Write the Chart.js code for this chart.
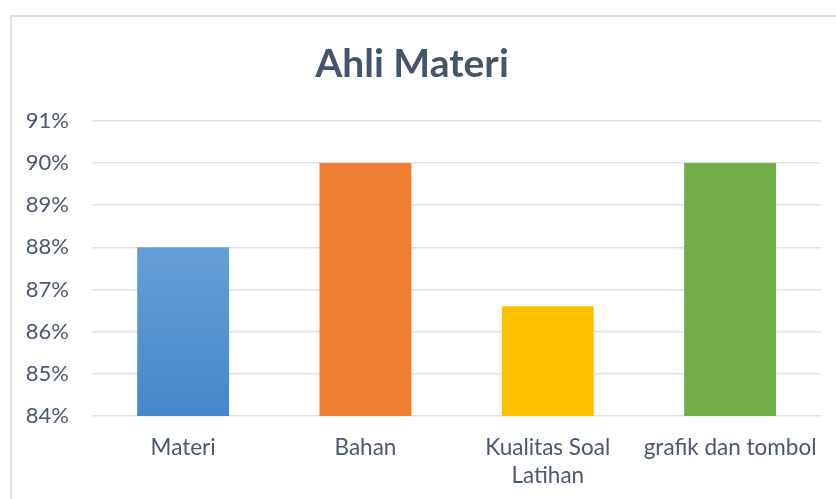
<!DOCTYPE html>
<html>
<head>
<meta charset="utf-8">
<script src="https://cdn.jsdelivr.net/npm/chart.js@4.4.1/dist/chart.umd.min.js"></script>
<style>
  html, body { margin: 0; padding: 0; background: #fff; }
  body { width: 836px; height: 499px; overflow: hidden; position: relative; }
  #frame {
    position: absolute; left: 10px; top: 15px; width: 900px; height: 600px;
    border-left: 2px solid #DCE1E8; border-top: 2px solid #DCE1E8;
  }
  #wrap { position: absolute; left: 0; top: 0; width: 836px; height: 499px; }
</style>
</head>
<body>
<div id="frame"></div>
<div id="wrap"><canvas id="chart" width="836" height="499"></canvas></div>
<script>
// data
const categories = ['Materi', 'Bahan', ['Kualitas Soal', 'Latihan'], 'grafik dan tombol'];
const scores = [88, 90, 86.6, 90];
const yTicks = { min: 84, max: 91, step: 1 };
const barColors = ['#5B9BD5', '#ED7D31', '#FFC000', '#70AD47'];

const textColor = '#4A586E';

Chart.defaults.font.family = 'Lato, "Open Sans", sans-serif';

// first bar has a light-to-dark blue gradient like the original
function barFill(ctx) {
  const chart = ctx.chart;
  const area = chart.chartArea;
  if (ctx.dataIndex !== 0 || !area) return barColors[ctx.dataIndex];
  const g = chart.ctx.createLinearGradient(0, area.top, 0, area.bottom);
  g.addColorStop(0, '#7CAFE0');
  g.addColorStop(1, '#4588CA');
  return g;
}

new Chart(document.getElementById('chart'), {
  type: 'bar',
  data: {
    labels: categories,
    datasets: [{
      label: 'Ahli Materi',
      data: scores,
      backgroundColor: barFill,
      borderWidth: 0,
      categoryPercentage: 1,
      barPercentage: 0.504,
    }],
  },
  options: {
    responsive: false,
    animation: false,
    layout: { padding: { left: 0, right: 12, top: 0, bottom: 0 } },
    plugins: {
      legend: { display: false },
      tooltip: { enabled: false },
      title: {
        display: true,
        text: 'Ahli Materi',
        color: '#44546A',
        font: { size: 39, weight: 'bold' },
        padding: { top: 41, bottom: 33 },
      },
    },
    scales: {
      x: {
        grid: { display: false, drawTicks: false },
        border: { display: false },
        ticks: { color: textColor, font: { size: 22.5, lineHeight: 1.25 }, padding: 18, maxRotation: 0, autoSkip: false },
        afterFit: s => { s.height = 83; },
      },
      y: {
        min: yTicks.min,
        max: yTicks.max,
        grid: { color: '#DEE2E8', lineWidth: 1.5, drawTicks: false },
        border: { display: false },
        ticks: {
          stepSize: yTicks.step,
          color: textColor,
          font: { size: 22 },
          padding: 23,
          callback: v => v + '%',
        },
        afterFit: s => { s.width = 92; },
      },
    },
  },
});
</script>
</body>
</html>
